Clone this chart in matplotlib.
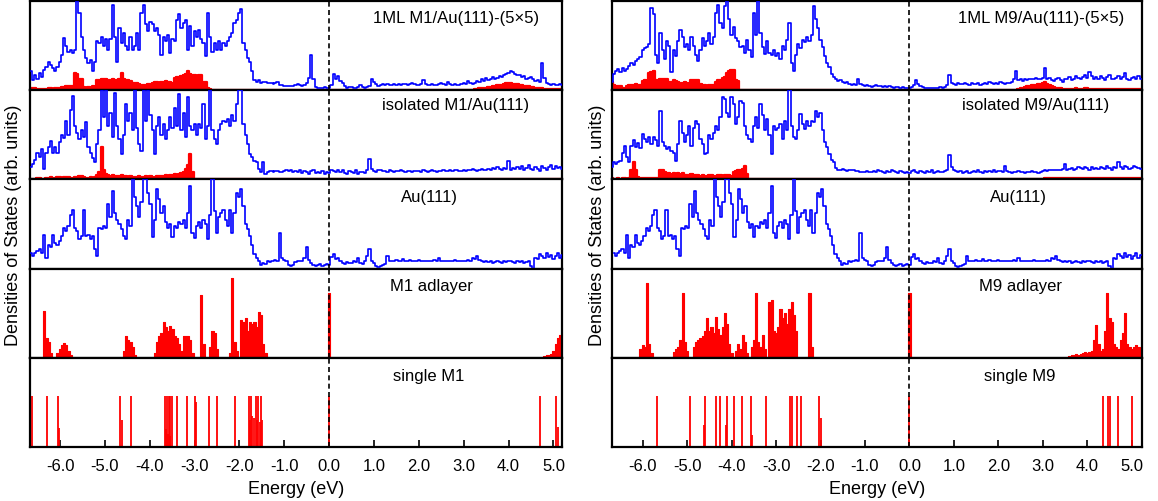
import numpy as np
import matplotlib.pyplot as plt

plt.rcParams['font.family'] = ['Liberation Sans', 'DejaVu Sans']
plt.rcParams['axes.unicode_minus'] = False

# energy grid (eV), 0.05 eV steps
energy = np.round(np.linspace(-6.75, 5.20, 240), 2)
# left-column d-band values were read on a slightly shifted scale
energy_left = np.concatenate([np.linspace(-6.65, -1.27, 110), energy[110:]])

# values are in % of panel height, one row = 1 eV
dos_1ml_m1 = [
    21, 11, 17, 13, 19, 15, 23, 26, 32, 28, 25, 21, 26, 32, 40, 58, 49, 43, 45, 42,
    45, 100, 87, 60, 45, 36, 30, 34, 21, 32, 55, 53, 60, 49, 57, 45, 57, 96, 60, 32,
    70, 53, 64, 49, 45, 60, 45, 49, 64, 45, 87, 96, 74, 66, 77, 74, 66, 70, 62, 40,
    60, 55, 62, 42, 57, 55, 79, 85, 70, 75, 79, 45, 72, 49, 66, 60, 68, 57, 53, 38,
    87, 60, 43, 53, 45, 55, 45, 53, 49, 55, 60, 64, 75, 79, 87, 91, 53, 45, 36, 32,
    21, 11, 9, 11, 8, 9, 9, 8, 8, 8, 7, 8, 9, 6, 6, 5, 5, 5, 5, 5,
    6, 7, 6, 5, 6, 8, 14, 40, 12, 4, 3, 3, 3, 4, 2, 3, 6, 18, 12, 16,
    10, 8, 5, 3, 4, 4, 3, 3, 4, 6, 4, 3, 4, 5, 13, 9, 7, 5, 6, 7,
    6, 7, 6, 6, 7, 6, 7, 6, 7, 7, 6, 7, 8, 7, 6, 6, 7, 11, 7, 6,
    6, 7, 6, 6, 7, 8, 7, 6, 9, 7, 6, 7, 6, 6, 7, 8, 7, 10, 8, 7,
    8, 10, 9, 12, 10, 14, 11, 13, 15, 13, 14, 16, 15, 17, 18, 19, 21, 20, 18, 17,
    17, 15, 16, 13, 14, 15, 12, 10, 11, 9, 30, 14, 8, 7, 6, 7, 6, 6, 7, 6,
]
pdos_1ml_m1 = [
    3, 3, 2, 1, 1, 1, 1, 1, 2, 2, 1, 2, 3, 3, 4, 4, 5, 5, 5, 5,
    19, 18, 13, 12, 4, 3, 4, 3, 5, 4, 11, 11, 12, 13, 13, 11, 11, 12, 11, 11,
    12, 19, 12, 11, 11, 10, 8, 8, 8, 7, 6, 6, 6, 7, 7, 8, 9, 9, 8, 9,
    9, 10, 9, 9, 8, 14, 15, 15, 16, 17, 18, 21, 18, 17, 17, 16, 17, 17, 9, 9,
    3, 1] + [0] * 118 + [
    1, 1, 2, 2, 2, 3, 4, 4, 5, 5, 6, 6, 6, 7, 8, 8, 8, 7, 7, 7,
    6, 6, 5, 5, 5, 4, 4, 3, 3, 2, 2, 1, 1, 1, 1, 1, 1, 1, 1, 1,
]

dos_iso_m1 = [
    14, 17, 22, 30, 25, 34, 12, 30, 36, 43, 30, 36, 30, 42, 50, 46, 66, 50, 78, 94,
    60, 52, 45, 55, 48, 64, 36, 30, 24, 19, 40, 55, 100, 70, 100, 60, 75, 48, 97, 60,
    45, 28, 50, 85, 65, 75, 55, 100, 58, 40, 32, 100, 65, 100, 72, 55, 28, 60, 70, 50,
    62, 45, 55, 70, 58, 80, 60, 96, 55, 75, 48, 92, 60, 55, 62, 50, 62, 58, 85, 45,
    60, 100, 55, 45, 40, 55, 62, 66, 64, 68, 60, 72, 66, 85, 100, 100, 62, 50, 40, 28,
    25, 21, 20, 12, 8, 20, 6, 8, 9, 9, 8, 9, 9, 8, 8, 9, 10, 9, 11, 8,
    9, 8, 10, 7, 9, 8, 6, 9, 10, 7, 8, 7, 9, 6, 8, 7, 10, 9, 8, 11,
    8, 10, 7, 6, 9, 8, 7, 10, 6, 8, 8, 7, 10, 23, 12, 9, 8, 11, 10, 9,
    9, 8, 10, 9, 8, 9, 9, 10, 9, 8, 9, 9, 8, 9, 9, 9, 8, 10, 9, 8,
    9, 10, 9, 8, 9, 9, 10, 9, 9, 10, 9, 11, 10, 9, 9, 10, 9, 11, 10, 12,
    10, 9, 11, 12, 10, 11, 12, 11, 13, 12, 14, 12, 11, 13, 12, 21, 11, 13, 12, 14,
    12, 15, 11, 13, 16, 12, 10, 14, 12, 9, 15, 13, 11, 14, 16, 12, 15, 13, 14, 12,
]
pdos_iso_m1 = [
    1, 1, 1, 2, 2, 1, 1, 2, 2, 3, 2, 2, 3, 3, 2, 3, 3, 3, 2, 2,
    3, 3, 4, 4, 3, 2, 2, 3, 2, 3, 5, 8, 36, 10, 6, 5, 4, 5, 4, 4,
    4, 5, 4, 4, 3, 4, 3, 3, 3, 4, 3, 3, 4, 3, 4, 3, 3, 4, 4, 4,
    4, 5, 4, 5, 5, 6, 5, 6, 7, 8, 12, 16, 28, 8] + [0] * 166

dos_au = [
    18, 14, 17, 20, 22, 18, 38, 12, 27, 24, 38, 29, 26, 31, 37, 45, 42, 48, 60, 66,
    46, 42, 33, 37, 66, 36, 38, 33, 36, 22, 14, 46, 44, 48, 46, 72, 58, 87, 62, 55,
    50, 44, 36, 33, 55, 48, 100, 80, 70, 58, 75, 100, 100, 85, 72, 35, 55, 89, 78, 62,
    70, 52, 46, 50, 35, 48, 46, 52, 50, 55, 45, 62, 93, 40, 34, 48, 52, 45, 55, 50,
    33, 60, 100, 65, 40, 58, 62, 66, 55, 48, 66, 40, 62, 85, 80, 89, 70, 50, 44, 36,
    26, 16, 12, 8, 4, 6, 5, 9, 7, 9, 8, 10, 9, 40, 12, 10, 8, 4, 3, 4,
    7, 8, 9, 8, 12, 24, 10, 6, 4, 3, 4, 5, 3, 4, 5, 4, 13, 16, 11, 12,
    8, 6, 5, 7, 6, 6, 8, 7, 12, 6, 5, 8, 14, 22, 9, 6, 3, 2, 3, 4,
    5, 14, 8, 9, 8, 10, 9, 8, 11, 9, 8, 10, 9, 8, 9, 10, 8, 9, 9, 8,
    9, 8, 10, 9, 12, 9, 8, 9, 9, 8, 9, 10, 8, 9, 9, 8, 9, 10, 9, 12,
    11, 14, 10, 8, 7, 8, 7, 8, 6, 7, 8, 7, 6, 8, 7, 9, 8, 7, 6, 8,
    7, 8, 6, 7, 8, 3, 0, 12, 11, 16, 14, 12, 18, 13, 15, 11, 14, 17, 12, 15,
]

m1_adlayer = [
    0, 0, 0, 0, 0, 0, 53, 22, 18, 5, 0, 0, 5, 10, 14, 17, 14, 8, 3, 0,
    0, 0, 0, 0, 0, 0, 0, 0, 0, 0, 0, 0, 0, 0, 0, 0, 0, 0, 0, 0,
    0, 0, 8, 25, 20, 18, 12, 3, 0, 0, 0, 0, 0, 0, 0, 0, 5, 18, 25, 28,
    40, 35, 30, 36, 32, 25, 22, 15, 8, 25, 24, 25, 20, 5, 0, 0, 0, 70, 15, 0,
    0, 12, 30, 28, 10, 0, 0, 0, 0, 0, 5, 89, 18, 8, 0, 42, 40, 45, 30, 40,
    38, 40, 35, 51, 48, 15, 5, 0, 0, 0, 0, 0, 0, 0, 0, 0, 0, 0, 0, 0,
    0, 0, 0, 0, 0, 0, 0, 0, 0, 0, 0, 0, 0, 0, 0, 73, 0, 0, 0, 0] + [0] * 80 + [
    0, 0, 0, 0, 0, 0, 0, 0, 0, 0, 0, 2, 3, 3, 4, 8, 15, 22, 26, 26,
]

dos_1ml_m9 = [
    15, 9, 18, 22, 24, 20, 25, 22, 24, 27, 30, 28, 33, 35, 37, 45, 47, 48, 52, 92,
    85, 40, 30, 64, 45, 35, 55, 50, 20, 45, 38, 55, 68, 60, 48, 52, 45, 60, 50, 40,
    33, 45, 58, 50, 55, 64, 52, 60, 87, 96, 75, 70, 94, 100, 80, 62, 71, 58, 55, 48,
    50, 42, 56, 45, 37, 87, 62, 100, 64, 48, 41, 55, 42, 40, 45, 38, 42, 35, 50, 45,
    56, 75, 30, 22, 40, 52, 47, 56, 54, 60, 55, 62, 94, 80, 70, 56, 48, 38, 30, 26,
    18, 15, 12, 10, 11, 9, 8, 9, 7, 6, 7, 6, 12, 7, 6, 5, 6, 5, 4, 5,
    6, 5, 5, 4, 5, 4, 5, 4, 3, 4, 4, 3, 4, 3, 3, 2, 4, 6, 11, 7,
    5, 4, 3, 3, 2, 3, 3, 2, 3, 4, 3, 4, 6, 17, 8, 7, 6, 8, 7, 7,
    8, 7, 6, 8, 7, 7, 8, 6, 7, 8, 7, 9, 8, 7, 8, 7, 9, 8, 7, 8,
    8, 9, 12, 21, 11, 12, 10, 13, 11, 12, 13, 12, 14, 13, 12, 14, 25, 12, 14, 11,
    10, 12, 14, 11, 9, 12, 13, 15, 11, 13, 16, 14, 12, 15, 17, 14, 20, 16, 12, 15,
    13, 16, 14, 11, 15, 17, 13, 12, 14, 16, 12, 15, 19, 13, 11, 14, 15, 12, 16, 13,
]
pdos_1ml_m9 = [
    8, 9, 6, 5, 5, 5, 2, 1, 5, 6, 6, 6, 7, 6, 6, 10, 11, 10, 19, 20,
    22, 11, 11, 13, 12, 13, 12, 9, 9, 11, 10, 9, 8, 8, 9, 8, 7, 11, 11, 11,
    11, 7, 6, 6, 5, 6, 6, 6, 9, 11, 11, 14, 15, 19, 22, 23, 23, 11, 10, 0] + [0] * 120 + [
    0, 0, 0, 0, 1, 2, 3, 4, 5, 5, 6, 6, 6, 7, 7, 8, 9, 7, 6, 5,
    4, 3, 2, 2, 1, 1, 1, 1, 1, 1, 2, 1, 1, 1, 2, 2, 1, 1, 1, 1,
    1, 1, 1, 1, 1, 1, 1, 1, 1, 1, 1, 1, 1, 1, 1, 1, 1, 1, 1, 1,
]

dos_iso_m9 = [
    18, 14, 20, 17, 19, 21, 30, 38, 25, 20, 38, 44, 36, 41, 35, 51, 45, 42, 47, 40,
    48, 44, 38, 77, 42, 37, 34, 36, 32, 30, 21, 40, 66, 52, 42, 50, 60, 38, 58, 66,
    62, 45, 40, 28, 30, 50, 45, 52, 60, 55, 70, 92, 90, 75, 70, 92, 85, 62, 70, 88,
    86, 60, 50, 45, 42, 60, 70, 58, 84, 72, 55, 68, 50, 28, 60, 55, 58, 62, 45, 65,
    55, 100, 60, 48, 45, 55, 73, 62, 57, 65, 60, 66, 64, 77, 70, 74, 55, 42, 36, 28,
    22, 20, 13, 11, 10, 12, 10, 9, 10, 10, 10, 9, 9, 8, 8, 8, 9, 8, 8, 9,
    8, 10, 9, 8, 7, 9, 8, 10, 9, 8, 7, 9, 8, 7, 8, 7, 9, 10, 8, 7,
    9, 8, 7, 9, 8, 10, 7, 8, 9, 8, 8, 9, 10, 27, 14, 11, 9, 8, 9, 7,
    8, 9, 7, 8, 9, 8, 10, 8, 7, 9, 8, 9, 8, 10, 8, 9, 9, 8, 15, 9,
    8, 7, 8, 8, 9, 8, 8, 7, 8, 8, 9, 8, 8, 7, 8, 9, 10, 9, 10, 11,
    10, 11, 10, 11, 12, 17, 11, 12, 13, 11, 12, 14, 13, 12, 14, 13, 11, 14, 12, 13,
    12, 14, 13, 12, 15, 13, 11, 14, 13, 19, 14, 12, 15, 14, 12, 13, 15, 14, 13, 12,
]
pdos_iso_m9 = [
    2, 2, 1, 1, 2, 1, 2, 2, 1, 2, 10, 19, 10, 3, 2, 2, 2, 2, 2, 2,
    2, 2, 2, 10, 10, 8, 7, 7, 6, 7, 6, 7, 6, 7, 5, 5, 5, 6, 5, 5,
    5, 4, 5, 4, 4, 5, 5, 4, 4, 5, 5, 4, 5, 5, 5, 4, 8, 9, 10, 10,
    12, 15, 6] + [0] * 132 + [1, 2, 2, 2, 2] + [2] * 40

m9_adlayer = [
    0, 0, 0, 0, 0, 0, 0, 0, 0, 0, 0, 0, 0, 0, 10, 14, 12, 84, 15, 5,
    0, 0, 0, 0, 0, 0, 0, 0, 0, 6, 10, 12, 20, 73, 18, 8, 0, 0, 12, 18,
    20, 22, 25, 30, 45, 30, 35, 28, 46, 32, 26, 35, 50, 38, 15, 5, 0, 8, 15, 10,
    26, 18, 5, 0, 12, 20, 73, 18, 12, 26, 10, 0, 62, 65, 30, 28, 35, 55, 45, 50,
    38, 55, 63, 48, 30, 0, 0, 0, 0, 0, 73, 12, 0, 0, 0, 0, 0, 0, 0, 0,
    0, 0, 0, 0, 0, 0, 0, 0, 0, 0, 0, 0, 0, 0, 0, 0, 0, 0, 0, 0,
    0, 0, 0, 0, 0, 0, 0, 0, 0, 0, 0, 0, 0, 0, 0, 73, 0, 0, 0, 0] + [0] * 60 + [
    0, 0, 0, 0, 0, 0, 0, 2, 3, 3, 4, 3, 4, 5, 6, 5, 7, 8, 20, 37,
    15, 8, 10, 30, 73, 45, 40, 15, 12, 10, 20, 28, 50, 15, 12, 10, 12, 14, 12, 10,
]

# discrete levels of the single adatoms (energy in eV, height in %)
single_m1_e = [-6.62, -6.29, -6.04, -6.02, -4.67, -4.63, -4.42, -3.66, -3.64, -3.62,
               -3.60, -3.58, -3.56, -3.54, -3.50, -3.39, -3.18, -3.00, -2.96, -2.67,
               -2.51, -2.10, -1.79, -1.76, -1.74, -1.71, -1.68, -1.64, -1.60, -1.58,
               -1.55, -1.53, -1.50, 0.00, 4.69, 5.05, 5.10]
single_m1_h = [57, 57, 57, 21, 57, 30, 57, 57, 20, 57, 15, 57, 12, 57, 57, 57, 57, 57, 50, 57,
               57, 57, 57, 30, 57, 35, 32, 57, 30, 57, 28, 57, 30, 57, 57, 57, 22]
single_m9_e = [-5.68, -4.93, -4.63, -4.60, -4.35, -4.27, -4.12, -4.10, -3.94, -3.77,
               -3.56, -3.54, -3.23, -2.69, -2.65, -2.53, -2.44, -2.03, -1.99, 0.00,
               4.35, 4.47, 4.52, 4.70, 5.01]
single_m9_h = [57, 57, 25, 57, 57, 57, 25, 57, 57, 57, 57, 14, 57, 57, 57, 57, 57, 57, 33, 57,
               57, 57, 57, 57, 57]

labels_m1 = ["1ML M1/Au(111)-(5\u00d75)", "isolated M1/Au(111)", "Au(111)", "M1 adlayer", "single M1"]
labels_m9 = ["1ML M9/Au(111)-(5\u00d75)", "isolated M9/Au(111)", "Au(111)", "M9 adlayer", "single M9"]
label_pos_m1 = [(0.80, 0.82), (0.80, 0.84), (0.75, 0.81), (0.755, 0.81), (0.75, 0.80)]
label_pos_m9 = [(0.81, 0.82), (0.80, 0.84), (0.766, 0.81), (0.77, 0.81), (0.77, 0.80)]

xticks = [-6.0, -5.0, -4.0, -3.0, -2.0, -1.0, 0.0, 1.0, 2.0, 3.0, 4.0, 5.0]
xtick_labels = ["-6.0", "-5.0", "-4.0", "-3.0", "-2.0", "-1.0", "0.0", "1.0", "2.0", "3.0", "4.0", "5.0"]

BLUE = '#0000ff'
RED = '#ff0000'
W, H = 1158, 502

fig = plt.figure(figsize=(W / 100, H / 100), dpi=100)


def draw_column(x0, x1, xlim, e_col, tot1, pd1, tot2, pd2, adlayer, s_e, s_h, labels, lpos):
    ph = 89.2
    for i in range(5):
        top = 2 + ph * i
        ax = fig.add_axes([x0 / W, 1 - (top + ph) / H, (x1 - x0) / W, ph / H])
        ax.set_xlim(*xlim)
        ax.set_ylim(0, 100)
        ax.set_yticks([])
        for sp in ax.spines.values():
            sp.set_linewidth(1.6)
        if i < 2:
            tot, pd = (tot1, pd1) if i == 0 else (tot2, pd2)
            ax.fill_between(e_col, pd, step='mid', color=RED, lw=0, zorder=2)
            ax.step(e_col, pd, where='mid', color=RED, lw=1.6, zorder=2)
            ax.step(e_col, tot, where='mid', color=BLUE, lw=1.2, zorder=3)
        elif i == 2:
            ax.step(energy_left, dos_au, where='mid', color=BLUE, lw=1.2, zorder=3)
        elif i == 3:
            ax.fill_between(e_col, adlayer, step='mid', color=RED, lw=0, zorder=2)
            ax.step(e_col, adlayer, where='mid', color=RED, lw=0.8, zorder=2)
        else:
            ax.vlines(s_e, 0, s_h, color=RED, lw=1.3, zorder=2)
        ax.axvline(0, color='k', ls=(0, (3, 2)), lw=1.2, zorder=5)
        ax.text(lpos[i][0], lpos[i][1], labels[i], transform=ax.transAxes,
                ha='center', va='center', fontsize=12)
        if i == 4:
            ax.set_xticks(xticks)
            ax.set_xticklabels(xtick_labels, fontsize=12)
            ax.tick_params(axis='x', direction='in', length=5, width=1.2, pad=8)
            ax.set_xlabel("Energy (eV)", fontsize=13, labelpad=5)
        else:
            ax.set_xticks([])


draw_column(30, 562, (-6.67, 5.19), energy_left, dos_1ml_m1, pdos_1ml_m1, dos_iso_m1, pdos_iso_m1,
            m1_adlayer, single_m1_e, single_m1_h, labels_m1, label_pos_m1)
draw_column(612, 1142, (-6.69, 5.23), energy, dos_1ml_m9, pdos_1ml_m9, dos_iso_m9, pdos_iso_m9,
            m9_adlayer, single_m9_e, single_m9_h, labels_m9, label_pos_m9)

fig.text(14 / W, 1 - 225 / H, "Densities of States (arb. units)", rotation=90,
         ha='center', va='center', fontsize=13)
fig.text(598 / W, 1 - 225 / H, "Densities of States (arb. units)", rotation=90,
         ha='center', va='center', fontsize=13)

fig.savefig("out.png", dpi=100)
